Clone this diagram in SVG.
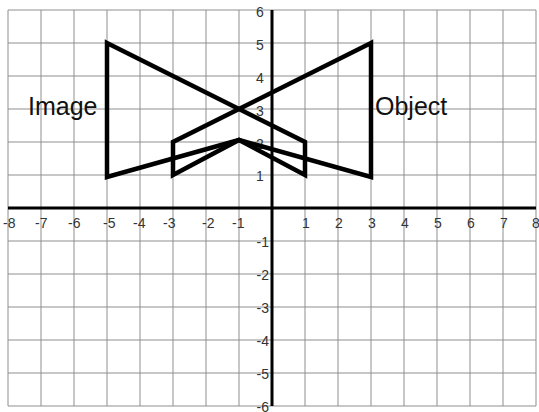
<svg xmlns="http://www.w3.org/2000/svg" width="539" height="412" viewBox="0 0 539 412">
<style>
.g{stroke:#8f8f8f;stroke-width:1;fill:none}
.ax{stroke:#000;stroke-width:3;fill:none}
.sh{stroke:#000;stroke-width:4.5;fill:none;stroke-linejoin:miter}
.n{font-family:"Liberation Sans",Arial,sans-serif;font-size:14px;fill:#333}
.lbl{font-family:"Liberation Sans",Arial,sans-serif;font-size:25px;fill:#111}
</style>
<rect width="539" height="412" fill="#fff"/>
<g id="grid">
<path class="g" d="M8 10V406M41 10V406M74 10V406M107 10V406M140 10V406M173 10V406M206 10V406M239 10V406M305 10V406M338 10V406M371 10V406M404 10V406M437 10V406M470 10V406M503 10V406M536 10V406"/>
<path class="g" d="M8 10H536M8 43H536M8 76H536M8 109H536M8 142H536M8 175H536M8 241H536M8 274H536M8 307H536M8 340H536M8 373H536M8 406H536"/>
</g>
<g id="axes">
<path class="ax" d="M8 208H536M272 10V406"/>
</g>
<g id="x-labels" class="n">
<text x="3" y="228">-8</text>
<text x="35" y="228">-7</text>
<text x="68" y="228">-6</text>
<text x="103" y="228">-5</text>
<text x="133" y="228">-4</text>
<text x="163" y="228">-3</text>
<text x="202" y="228">-2</text>
<text x="232" y="228">-1</text>
<g text-anchor="middle">
<text x="306" y="228">1</text>
<text x="339" y="228">2</text>
<text x="372" y="228">3</text>
<text x="405" y="228">4</text>
<text x="438" y="228">5</text>
<text x="471" y="228">6</text>
<text x="504" y="228">7</text>
<text x="536" y="228">8</text>
</g>
</g>
<g id="y-labels" class="n">
<g text-anchor="middle">
<text x="260" y="16.5">6</text>
<text x="260" y="49.5">5</text>
<text x="260" y="82.5">4</text>
<text x="260" y="115.5">3</text>
<text x="260" y="148.5">2</text>
<text x="260" y="181">1</text>
</g>
<g text-anchor="end">
<text x="269" y="246.5">-1</text>
<text x="269" y="279.5">-2</text>
<text x="269" y="312.5">-3</text>
<text x="269" y="345.5">-4</text>
<text x="269" y="378.5">-5</text>
<text x="269" y="411.5">-6</text>
</g>
</g>
<g id="image">
<polygon class="sh" points="107,43 305,142 305,175 239,140 107,177"/>
<text class="lbl" x="28" y="115">Image</text>
</g>
<g id="object">
<polygon class="sh" points="371,43 173,142 173,175 239,140 371,177"/>
<text class="lbl" x="375" y="115">Object</text>
</g>
</svg>
